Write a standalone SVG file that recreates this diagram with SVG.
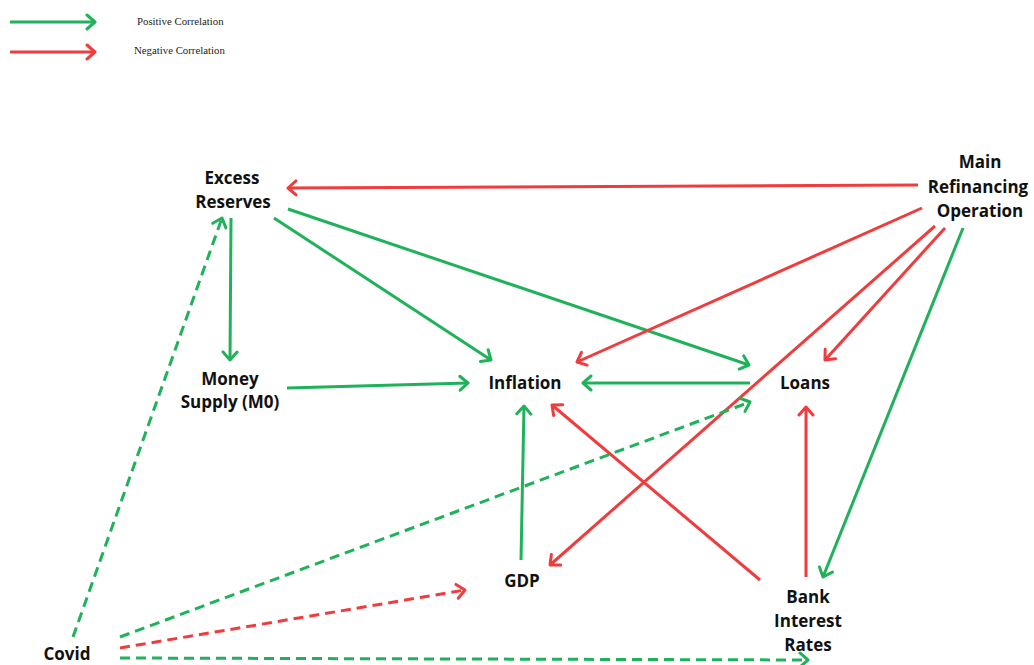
<svg xmlns="http://www.w3.org/2000/svg" width="1034" height="665" viewBox="0 0 1034 665">
<style>
.lbl{font-family:"Open Sans","Liberation Sans",sans-serif;font-weight:700;font-size:17px;fill:#111;text-anchor:middle}
.leg{font-family:"Liberation Serif",serif;font-size:10.8px;fill:#222}
.g{stroke:#1fb25a;stroke-width:3;fill:none;marker-end:url(#ag)}
.r{stroke:#f03c3c;stroke-width:3;fill:none;marker-end:url(#ar)}
.d{stroke-dasharray:10 6}
</style>
<defs>
<marker id="ag" markerUnits="userSpaceOnUse" viewBox="-12 -10 14 20" refX="0" refY="0" markerWidth="14" markerHeight="20" orient="auto">
<path d="M-8,-7 L0,0 L-8,7" fill="none" stroke="#1fb25a" stroke-width="3" stroke-linecap="round" stroke-linejoin="round"/>
</marker>
<marker id="ar" markerUnits="userSpaceOnUse" viewBox="-12 -10 14 20" refX="0" refY="0" markerWidth="14" markerHeight="20" orient="auto">
<path d="M-8,-7 L0,0 L-8,7" fill="none" stroke="#f03c3c" stroke-width="3" stroke-linecap="round" stroke-linejoin="round"/>
</marker>
</defs>
<rect width="1034" height="665" fill="#fff"/>
<g id="legend">
<path class="g" d="M10,22 L95,22"/>
<path class="r" d="M10,52 L95,52"/>
<text class="leg" x="137" y="25">Positive Correlation</text>
<text class="leg" x="134" y="54">Negative Correlation</text>
</g>
<g id="connectors">
<path class="r" d="M918,185 L288,188"/>
<path class="g" d="M231,218 L230,360"/>
<path class="g" d="M274,218 L491,360"/>
<path class="g" d="M288,209 L749,365"/>
<path class="r" d="M922,208 L577,362"/>
<path class="r" d="M935,226 L550,565"/>
<path class="r" d="M945,228 L825,360"/>
<path class="g" d="M963,228 L823,577"/>
<path class="g" d="M287,388 L468,383"/>
<path class="g" d="M750,383 L583,383"/>
<path class="g" d="M521,560 L524,406"/>
<path class="r" d="M760,580 L552,405"/>
<path class="r" d="M806,577 L806,407"/>
<path class="g d" d="M73,637 L222,218"/>
<path class="g d" d="M120,637 L750,402"/>
<path class="r d" d="M120,648 L465,590"/>
<path class="g d" d="M120,658 L808,660"/>
</g>
<g id="excess-reserves"><text class="lbl" x="232" y="184">Excess</text><text class="lbl" x="233" y="208">Reserves</text></g>
<g id="main-refinancing-operation"><text class="lbl" x="980" y="168">Main</text><text class="lbl" x="978" y="193">Refinancing</text><text class="lbl" x="980" y="217">Operation</text></g>
<g id="money-supply"><text class="lbl" x="230" y="385">Money</text><text class="lbl" x="230" y="408">Supply (M0)</text></g>
<g id="inflation"><text class="lbl" x="525" y="389">Inflation</text></g>
<g id="loans"><text class="lbl" x="805" y="389">Loans</text></g>
<g id="gdp"><text class="lbl" x="522" y="587">GDP</text></g>
<g id="bank-interest-rates"><text class="lbl" x="808" y="603">Bank</text><text class="lbl" x="808" y="627">Interest</text><text class="lbl" x="808" y="651">Rates</text></g>
<g id="covid"><text class="lbl" x="67" y="660">Covid</text></g>
</svg>
